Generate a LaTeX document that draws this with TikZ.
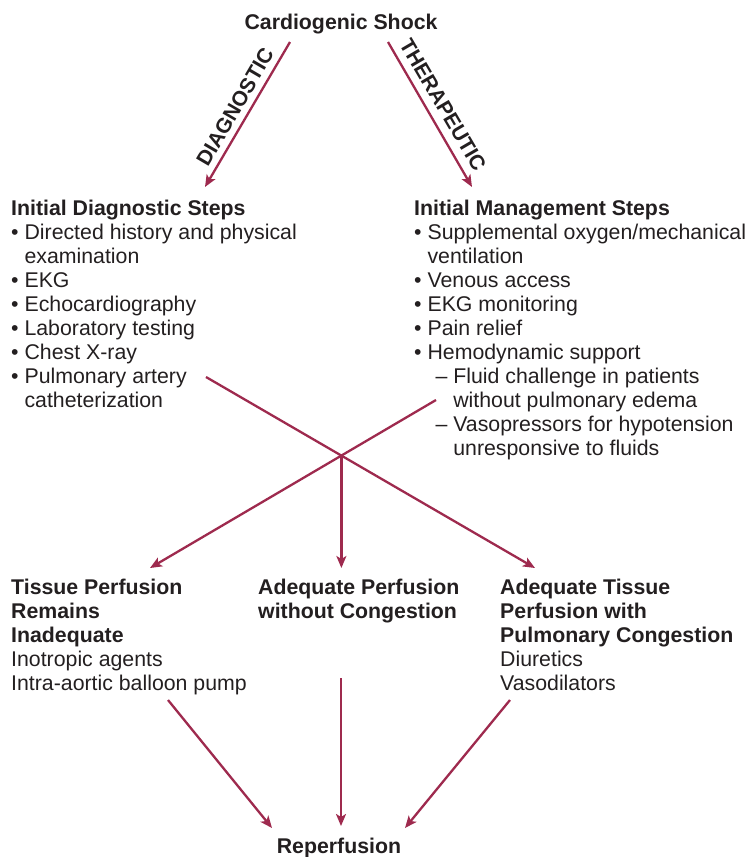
\documentclass[tikz,border=0pt]{standalone}
\usepackage{fontspec}
\setmainfont{Liberation Sans}
\usetikzlibrary{arrows.meta}
\definecolor{flow}{RGB}{158,42,78}
\definecolor{ink}{RGB}{35,31,32}
\tikzset{
  txt/.style={anchor=north west, inner sep=0pt, align=left, text=ink,
    font=\fontsize{21.3}{24}\selectfont},
  title/.style={anchor=base, inner sep=0pt, text=ink,
    font=\fontsize{21.3}{24}\selectfont\bfseries},
  tag/.style={inner sep=0pt, text=ink, font=\fontsize{21}{24}\selectfont\bfseries},
  arr/.style={draw=flow, line width=2.3pt, -{Stealth[length=12pt,width=10pt,inset=3pt]}},
}
\newcommand{\bul}{\textbullet\ }
\newcommand{\bulgap}{\phantom{\textbullet\ }}
\begin{document}
\begin{tikzpicture}[x=1pt,y=-1pt]
\useasboundingbox (0,0) rectangle (747,857);

% headings
\node[title] (shock) at (341,29) {Cardiogenic Shock};
\node[title] (reperf) at (339,853) {Reperfusion};

% two first branches
\coordinate (dgS) at (290,42);
\coordinate (dgE) at (205,187);
\coordinate (thS) at (388,42);
\coordinate (thE) at (472,187);
\draw[arr] (dgS) -- (dgE);
\draw[arr] (thS) -- (thE);
\node[tag, rotate=59.6] (dglab) at (235,107) {DIAGNOSTIC};
\node[tag, rotate=-59.6] (thlab) at (443,105) {THERAPEUTIC};

% diagnostic steps
\node[txt] (diag) at (11,199.7) {\textbf{Initial Diagnostic Steps}\\
\bul Directed history and physical\\
\bulgap examination\\
\bul EKG\\
\bul Echocardiography\\
\bul Laboratory testing\\
\bul Chest X-ray\\
\bul Pulmonary artery\\
\bulgap catheterization};

% management steps
\node[txt] (mgmt) at (414,199.7) {\textbf{Initial Management Steps}\\
\bul Supplemental oxygen/mechanical\\
\bulgap ventilation\\
\bul Venous access\\
\bul EKG monitoring\\
\bul Pain relief\\
\bul Hemodynamic support\\
\bulgap\hspace*{8pt}–\ Fluid challenge in patients\\
\bulgap\hspace*{8pt}\phantom{–\ }without pulmonary edema\\
\bulgap\hspace*{8pt}–\ Vasopressors for hypotension\\
\bulgap\hspace*{8pt}\phantom{–\ }unresponsive to fluids};

% outcomes
\node[txt] (low) at (11,578.7) {\textbf{Tissue Perfusion}\\
\textbf{Remains}\\
\textbf{Inadequate}\\
Inotropic agents\\
Intra-aortic balloon pump};
\node[txt] (ok) at (258,578.7) {\textbf{Adequate Perfusion}\\
\textbf{without Congestion}};
\node[txt] (cong) at (500,578.7) {\textbf{Adequate Tissue}\\
\textbf{Perfusion with}\\
\textbf{Pulmonary Congestion}\\
Diuretics\\
Vasodilators};

% crossing connectors
\coordinate (dgOut) at (206,377);
\coordinate (mgOut) at (436,400);
\coordinate (lowIn) at (150,568);
\coordinate (okIn) at (341,568);
\coordinate (congIn) at (535,568);
\coordinate (cross) at (intersection of dgOut--congIn and mgOut--lowIn);
\draw[arr] (dgOut) -- (congIn);
\draw[arr] (mgOut) -- (lowIn);
\draw[arr] (cross) -- (cross |- okIn);

% into reperfusion
\coordinate (lowOut) at (168,700);
\coordinate (okOut) at (341,678);
\coordinate (congOut) at (510,700);
\coordinate (rpL) at (272,828);
\coordinate (rpM) at (341,826);
\coordinate (rpR) at (405,828);
\draw[arr] (lowOut) -- (rpL);
\draw[arr] (okOut) -- (rpM);
\draw[arr] (congOut) -- (rpR);
\end{tikzpicture}
\end{document}
